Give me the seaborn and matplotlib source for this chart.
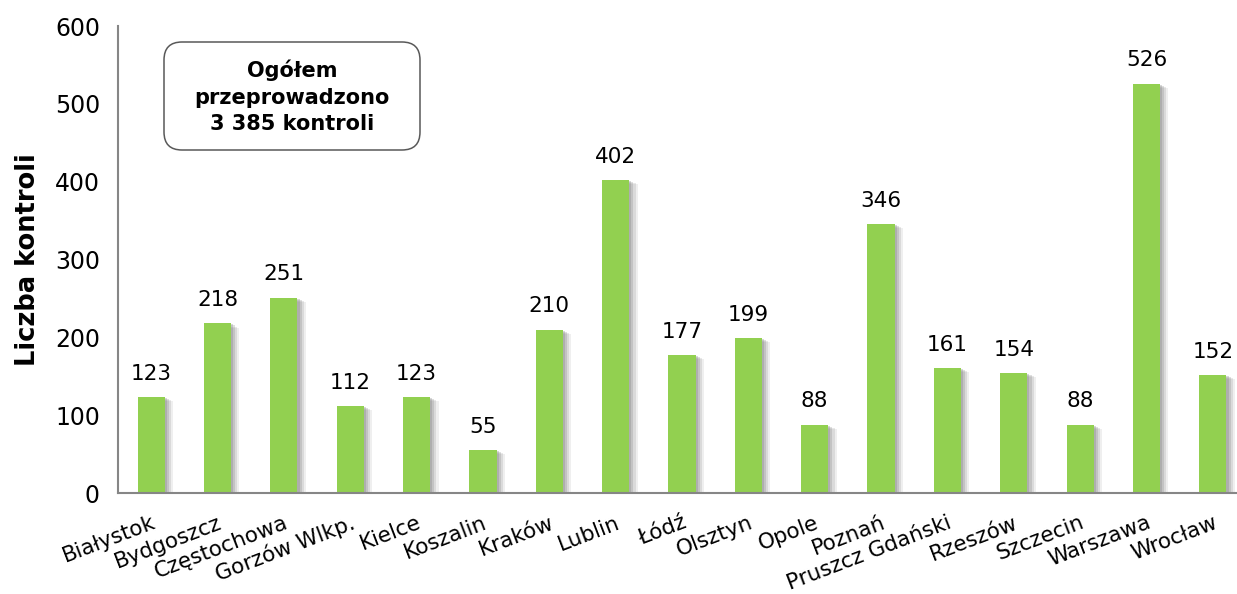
import matplotlib
matplotlib.use('Agg')
import matplotlib.pyplot as plt
import matplotlib.patheffects as pe
from matplotlib.patches import FancyBboxPatch
from matplotlib.transforms import IdentityTransform
from matplotlib.ticker import FixedLocator
import seaborn as sns
import pandas as pd
import numpy as np

cities = ['Białystok', 'Bydgoszcz', 'Częstochowa', 'Gorzów Wlkp.', 'Kielce',
          'Koszalin', 'Kraków', 'Lublin', 'Łódź', 'Olsztyn', 'Opole', 'Poznań',
          'Pruszcz Gdański', 'Rzeszów', 'Szczecin', 'Warszawa', 'Wrocław']
counts = [123, 218, 251, 112, 123, 55, 210, 402, 177, 199, 88, 346,
          161, 154, 88, 526, 152]
total_text = 'Ogółem\nprzeprowadzono\n3 385 kontroli'

df = pd.DataFrame({'city': cities, 'count': counts})

sns.set_style('white')
plt.rcParams['font.family'] = ['DejaVu Sans']
plt.rcParams['text.color'] = 'black'
plt.rcParams['xtick.color'] = 'black'
plt.rcParams['ytick.color'] = 'black'
plt.rcParams['axes.labelcolor'] = 'black'

fig = plt.figure(figsize=(12.37, 5.94), dpi=100)
ax = fig.add_axes([0.0954, 0.170, 0.9119, 0.786])

sns.barplot(data=df, x='city', y='count', color='#92D050', width=0.41,
            saturation=1, linewidth=0, ax=ax)

# soft grey shadow to the right of each bar
shadow = [pe.SimplePatchShadow(offset=(o, -o * 0.5), shadow_rgbFace='#808080', alpha=a)
          for o, a in [(6, 0.12), (4.5, 0.18), (3, 0.25), (1.5, 0.3)]]
for p in ax.patches:
    p.set_path_effects(shadow + [pe.Normal()])

for i, v in enumerate(counts):
    ax.text(i, v + 17, str(v), ha='center', va='bottom', fontsize=15.5)

ax.set_ylim(0, 600)
ax.set_xlim(-0.5, len(cities) - 0.5)
ax.set_yticks(range(0, 601, 100))
ax.tick_params(axis='y', labelsize=17, length=6, width=1.3, color='#868686',
               direction='out', pad=7)

# ticks between categories, labels at the centre
ax.xaxis.set_minor_locator(FixedLocator(np.arange(-0.5, len(cities), 1)))
ax.tick_params(axis='x', which='minor', length=7, width=1.3, color='#868686', direction='out')
ax.tick_params(axis='x', which='major', length=0, pad=14)
ax.set_xticks(range(len(cities)))
ax.set_xticklabels(cities, rotation=21, ha='right', rotation_mode='anchor', fontsize=15.5)

for side in ['top', 'right']:
    ax.spines[side].set_visible(False)
for side in ['left', 'bottom']:
    ax.spines[side].set_color('#868686')
    ax.spines[side].set_linewidth(1.5)

ax.set_xlabel('')
ax.set_ylabel('Liczba kontroli', fontsize=18.5, fontweight='bold', labelpad=10)

# rounded info box (pixel coordinates)
box = FancyBboxPatch((164, 444), 256, 108, boxstyle='round,pad=0,rounding_size=18',
                     transform=IdentityTransform(), fc='white', ec='#595959', lw=1.1)
fig.patches.append(box)
fig.text(292 / 1237, 1 - 97 / 594, total_text, ha='center', va='center',
         fontsize=15, fontweight='bold', linespacing=1.4)

fig.savefig('out.png', dpi=100)
